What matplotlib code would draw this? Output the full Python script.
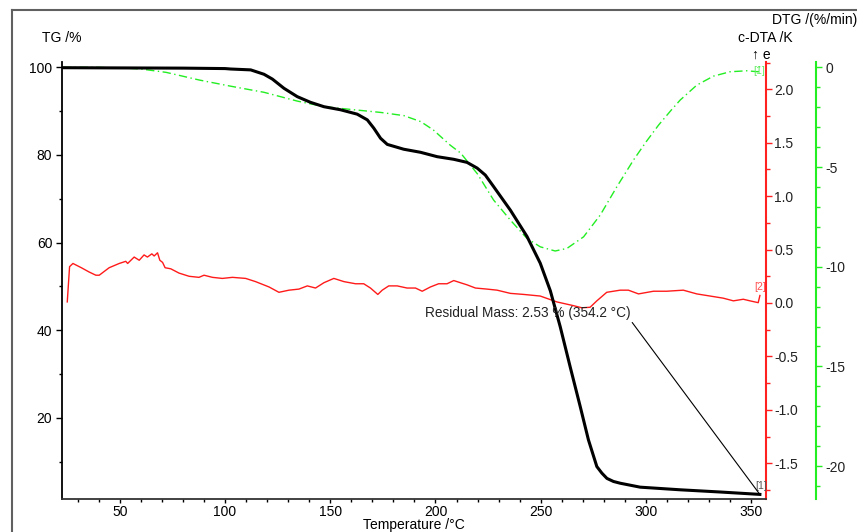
import matplotlib.pyplot as plt
from matplotlib.lines import Line2D
from matplotlib.ticker import MultipleLocator

plt.rcParams["font.family"] = ["Liberation Sans", "DejaVu Sans"]
plt.rcParams["font.size"] = 10
plt.rcParams["axes.unicode_minus"] = False

# TG curve (temperature in °C, mass in %)
tg_temp = [22.9, 50, 80, 100, 102.7, 112.2, 118.5, 122.5, 128.0, 134.3, 140.6, 147.0,
           154.9, 162.8, 167.6, 170.7, 173.9, 177.1, 184.9, 192.9, 200.8, 208.7, 215.0,
           219.8, 223.7, 227.6, 235.6, 243.5, 249.8, 254.6, 259.3, 264.0, 268.8, 272.7,
           276.7, 279.1, 281.5, 284.6, 287.8, 297.3, 316.3, 335.2, 354.2]
tg_mass = [99.9, 99.85, 99.8, 99.7, 99.6, 99.4, 98.4, 97.3, 95.2, 93.3, 92.0, 91.0,
           90.3, 89.3, 88.0, 86.1, 83.8, 82.4, 81.3, 80.6, 79.6, 79.0, 78.3,
           77.0, 75.4, 72.8, 67.4, 61.4, 55.3, 49.0, 40.8, 31.7, 22.6, 15.0,
           8.9, 7.4, 6.2, 5.5, 5.1, 4.2, 3.6, 3.1, 2.55]

# DTG curve (%/min)
dtg_temp = [22.9, 40, 55, 60, 72, 88, 103, 118.5, 134.3, 147.0, 158.0, 174.0, 185.0,
            193.0, 199.0, 207.0, 212.0, 220.0, 227.6, 235.6, 243.5, 249.8, 256.9,
            262.5, 270.4, 278.3, 286.2, 294.1, 300.0, 306.0, 312.0, 316.3, 324.2,
            332.1, 340.0, 347.9, 353.4, 354.2]
dtg_val = [0.0, 0.0, -0.05, -0.08, -0.25, -0.64, -0.95, -1.25, -1.69, -1.97, -2.09,
           -2.26, -2.42, -2.72, -3.14, -3.9, -4.3, -5.35, -6.65, -7.66, -8.58, -9.0,
           -9.21, -9.08, -8.5, -7.41, -5.99, -4.65, -3.75, -2.9, -2.15, -1.64, -0.89,
           -0.44, -0.22, -0.17, -0.22, 0.1]

# c-DTA curve (K)
dta_temp = [25.0, 26.1, 27.7, 31.7, 35.4, 38.6, 40.2, 44.9, 49.7, 52.8, 53.7, 56.8,
            59.2, 61.5, 63.1, 65.2, 66.3, 67.9, 69.0, 70.3, 71.5, 74.2, 78.1, 82.9,
            87.6, 90.0, 94.0, 98.7, 103.5, 109.8, 114.5, 120.9, 125.6, 130.4, 135.1,
            139.1, 143.0, 147.0, 151.7, 156.5, 162.0, 165.9, 169.1, 172.6, 174.7,
            177.8, 181.8, 186.5, 190.5, 193.7, 197.6, 201.5, 205.5, 208.7, 211.8,
            215.0, 219.0, 224.5, 229.3, 235.6, 242.0, 249.8, 257.7, 265.6, 269.6,
            273.5, 276.7, 281.4, 287.8, 291.7, 296.5, 303.6, 309.9, 317.8, 324.2,
            332.1, 336.8, 341.6, 346.3, 349.5, 353.4, 354.2]
dta_val = [0.01, 0.34, 0.37, 0.33, 0.29, 0.26, 0.26, 0.33, 0.37, 0.39, 0.37, 0.43,
           0.40, 0.45, 0.43, 0.46, 0.44, 0.47, 0.40, 0.38, 0.33, 0.32, 0.28, 0.25,
           0.24, 0.26, 0.24, 0.23, 0.24, 0.23, 0.20, 0.15, 0.10, 0.12, 0.13,
           0.16, 0.14, 0.19, 0.23, 0.20, 0.18, 0.18, 0.14, 0.08, 0.12,
           0.16, 0.16, 0.14, 0.14, 0.11, 0.15, 0.18, 0.18, 0.21, 0.19,
           0.17, 0.14, 0.13, 0.12, 0.09, 0.08, 0.065, 0.01, -0.025, -0.045,
           -0.04, 0.02, 0.10, 0.12, 0.12, 0.085, 0.11, 0.11, 0.12, 0.085,
           0.06, 0.045, 0.02, 0.035, 0.02, 0.003, 0.07]

residual_temp = 354.2
residual_mass = 2.53

W, H = 857, 532
fig = plt.figure(figsize=(W / 100, H / 100), dpi=100)

# outer frame (top and left edges visible)
fig.add_artist(Line2D([12 / W, 1], [1 - 10 / H, 1 - 10 / H], color="#606060", lw=1.5))
fig.add_artist(Line2D([12 / W, 12 / W], [0, 1 - 10 / H], color="#606060", lw=1.5))

left, right, top, bottom = 62, 766, 62, 499
ax = fig.add_axes([left / W, 1 - bottom / H, (right - left) / W, (bottom - top) / H])
ax_red = ax.twinx()
ax_green = ax.twinx()

ax_green.plot(dtg_temp, dtg_val, color="#22ee22", lw=1.0,
              linestyle=(0, (6, 2.5, 1, 2.5)))
ax_red.plot(dta_temp, dta_val, color="#ff1a1a", lw=1.0)
ax.plot(tg_temp, tg_mass, color="black", lw=2.2)

ax.set_zorder(3)
ax.patch.set_visible(False)

ax.set_xlim(22.5, 357.1)
ax.set_ylim(1.5, 101.2)
ax_red.set_ylim(-1.835, 2.256)
ax_green.set_ylim(-21.65, 0.27)

for a in (ax, ax_red, ax_green):
    a.spines["top"].set_visible(False)
ax.spines["right"].set_visible(False)
for a in (ax_red, ax_green):
    a.spines["left"].set_visible(False)
    a.spines["bottom"].set_visible(False)

ax.spines["left"].set_linewidth(1.3)
ax.spines["bottom"].set_linewidth(1.3)
ax.spines["bottom"].set_color("#333333")

ax_red.spines["right"].set_color("#ff2020")
ax_red.spines["right"].set_linewidth(1.5)
# 50 px offset = 36 pt at 100 dpi
ax_green.spines["right"].set_position(("outward", 36))
ax_green.spines["right"].set_color("#22ee22")
ax_green.spines["right"].set_linewidth(1.5)

ax.xaxis.set_minor_locator(MultipleLocator(10))
ax.set_xticks([50, 100, 150, 200, 250, 300, 350])
ax.yaxis.set_minor_locator(MultipleLocator(10))
ax.set_yticks([20, 40, 60, 80, 100])
ax_red.yaxis.set_minor_locator(MultipleLocator(0.25))
ax_red.set_yticks([-1.5, -1.0, -0.5, 0.0, 0.5, 1.0, 1.5, 2.0])
ax_red.set_yticklabels(["-1.5", "-1.0", "-0.5", "0.0", "0.5", "1.0", "1.5", "2.0"])
ax_green.yaxis.set_minor_locator(MultipleLocator(1))
ax_green.set_yticks([-20, -15, -10, -5, 0])

ax.tick_params(axis="x", which="major", length=3, width=1, labelsize=10, pad=1.5)
ax.tick_params(axis="y", which="major", length=4, width=1, labelsize=10, pad=3)
ax.tick_params(axis="both", which="minor", length=2.5, width=1)
ax_red.tick_params(which="both", colors="#ff2020", labelcolor="#222222", labelsize=10, pad=2)
ax_red.tick_params(which="major", length=4, width=1)
ax_red.tick_params(which="minor", length=3, width=1)
ax_green.tick_params(which="both", colors="#22ee22", labelcolor="#222222", labelsize=10, pad=3)
ax_green.tick_params(which="major", length=4, width=1)
ax_green.tick_params(which="minor", length=3, width=1)

# axis titles
fig.text(42 / W, 1 - 38 / H, "TG /%", ha="left", va="center", fontsize=10)
fig.text(765 / W, 1 - 38 / H, "c-DTA /K", ha="center", va="center", fontsize=10)
fig.text(815 / W, 1 - 20 / H, "DTG /(%/min)", ha="center", va="center", fontsize=10)
fig.text(752 / W, 1 - 55 / H, "↑ e", ha="left", va="center", fontsize=10)
fig.text(414 / W, 1 - 525 / H, "Temperature /°C", ha="center", va="center", fontsize=10)

# segment markers
ax.text(residual_temp + 0.5, residual_mass + 0.7, "[1]", color="#555555", fontsize=7.5,
        ha="center", va="bottom")
ax_red.text(dta_temp[-1], dta_val[-1] + 0.03, "[2]", color="#ff5050", fontsize=7.5,
            ha="center", va="bottom")
ax_green.text(dtg_temp[-1] - 0.5, dtg_val[-1] - 0.3, "[1]", color="#66ee66",
              fontsize=7.5, ha="center", va="center")

ax.annotate(f"Residual Mass: {residual_mass:.2f} % ({residual_temp:.1f} °C)",
            xy=(residual_temp, residual_mass), xytext=(194.8, 44.0),
            ha="left", va="center", fontsize=9.8, color="#222222",
            arrowprops=dict(arrowstyle="-", color="black", lw=0.8,
                            relpos=(1.0, 0.0), shrinkA=0, shrinkB=0))

fig.savefig("out.png", dpi=100)
